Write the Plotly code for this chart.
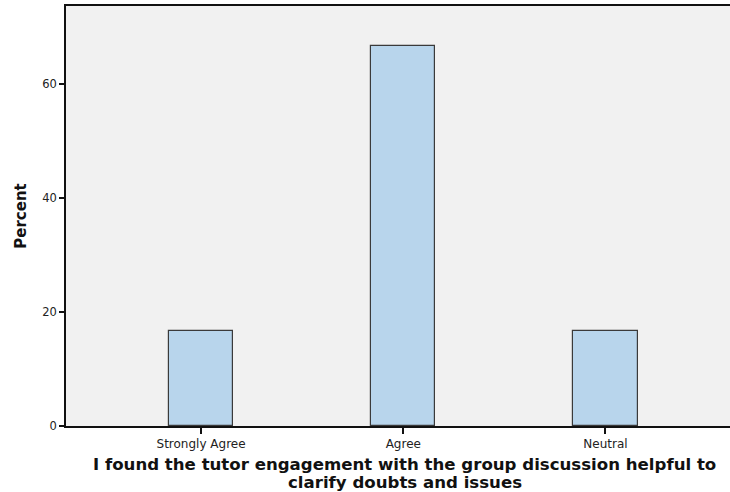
import plotly.graph_objects as go

categories = ["Strongly Agree", "Agree", "Neutral"]
percent = [16.67, 66.67, 16.67]
y_ticks = [0, 20, 40, 60]
title_lines = ["I found the tutor engagement with the group discussion helpful to",
               "clarify doubts and issues"]

x_pos = list(range(len(categories)))

fig = go.Figure(go.Bar(
    x=x_pos, y=percent, width=0.317,
    marker=dict(color="#b8d5ec", line=dict(color="#3a3a3a", width=1.2)),
))

fig.update_layout(
    width=730, height=492,
    margin=dict(l=66, r=0, t=6, b=66, autoexpand=False),
    plot_bgcolor="#f1f1f1", paper_bgcolor="white",
    font=dict(family="DejaVu Sans", size=11, color="#222"),
    showlegend=False,
    bargap=0,
)
fig.update_xaxes(
    tickvals=x_pos, ticktext=categories, range=[-0.668, 2.616],
    showline=True, linecolor="#111", linewidth=1.5, mirror=True,
    ticks="outside", ticklen=6, tickcolor="#111", tickwidth=1.5,
    showgrid=False, zeroline=False, automargin=False,
    tickfont=dict(size=12),
)
fig.update_yaxes(
    tickvals=y_ticks, range=[0, 73.7],
    showline=True, linecolor="#111", linewidth=1.5,
    ticks="outside", ticklen=5, tickcolor="#111", tickwidth=1.5,
    showgrid=False, zeroline=False, automargin=False,
    title=dict(text="<b>Percent</b>", font=dict(size=15, color="#111"), standoff=12),
    tickfont=dict(size=11.5),
)
fig.add_annotation(text="<b>" + title_lines[0] + "</b>", xref="paper", yref="paper",
                   x=0.51, y=-0.092, xanchor="center", yanchor="middle", showarrow=False,
                   font=dict(size=16.6, color="#111"))
fig.add_annotation(text="<b>" + title_lines[1] + "</b>", xref="paper", yref="paper",
                   x=0.51, y=-0.135, xanchor="center", yanchor="middle", showarrow=False,
                   font=dict(size=16.6, color="#111"))

fig.write_html("out.html", config={"displayModeBar": False},
               post_script="document.body.style.margin='0';document.body.style.overflow='hidden';")
